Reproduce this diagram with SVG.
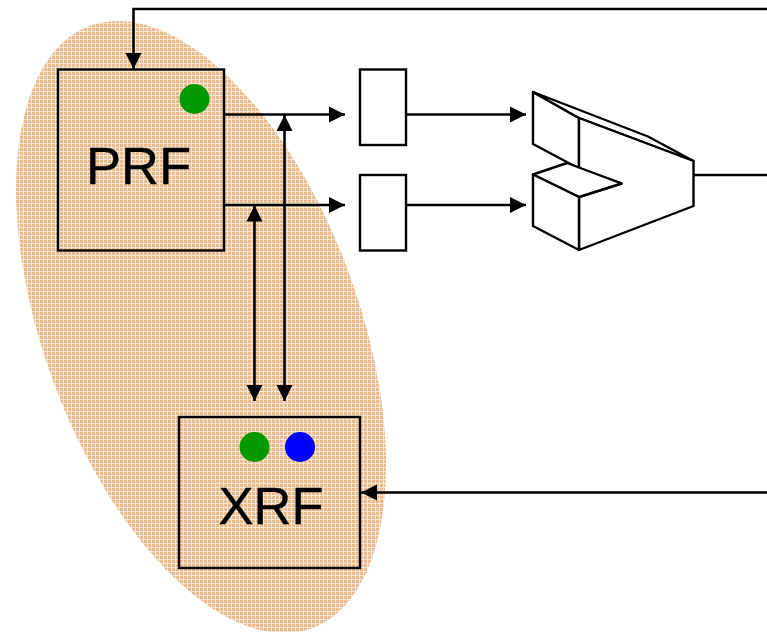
<svg xmlns="http://www.w3.org/2000/svg" width="767" height="632" viewBox="0 0 767 632">
<defs>
<pattern id="hatch" width="4" height="4" patternUnits="userSpaceOnUse">
<rect width="4" height="4" fill="#e9bb8e"/>
<rect x="3" width="1" height="4" fill="#f8e6d4"/>
<rect y="3" width="4" height="1" fill="#f8e6d4"/>
</pattern>
<clipPath id="regionClip"><ellipse cx="201" cy="327" rx="157.600" ry="321" transform="rotate(-20.250 201 327)"/></clipPath>
<marker id="arrow" markerUnits="userSpaceOnUse" markerWidth="17" markerHeight="17" refX="16" refY="8.500" orient="auto-start-reverse" viewBox="0 0 17 17">
<path d="M0 0.500L16 8.500L0 16.500Z" fill="#000"/>
</marker>
<style>
.box{fill:none;stroke:#000;stroke-width:2.400}
.wbox{fill:#fff;stroke:#000;stroke-width:2.400}
.line{fill:none;stroke:#000;stroke-width:2.600;stroke-linejoin:miter}
.arr{marker-end:url(#arrow)}
.both{marker-start:url(#arrow);marker-end:url(#arrow)}
.lbl{font-family:"Liberation Sans",Arial,sans-serif;font-size:52.500px;fill:#000;stroke:#000;stroke-width:0.400;text-anchor:middle}
.thin{fill:#fff;stroke:#000;stroke-width:2.400;stroke-linejoin:round}
</style>
</defs>
<rect id="region" x="0" y="0" width="420" height="632" fill="url(#hatch)" clip-path="url(#regionClip)"/>
<g id="prf"><rect class="box" x="58" y="69.500" width="166" height="181"/><circle cx="194.500" cy="99" r="15" fill="#009900"/><text class="lbl" x="138.500" y="184">PRF</text></g>
<g id="xrf"><rect class="box" x="179" y="417" width="181" height="151"/><circle cx="254.500" cy="447" r="15" fill="#009900"/><circle cx="300" cy="447" r="15" fill="#0000ff"/><text class="lbl" x="271" y="524">XRF</text></g>
<g id="latch1"><rect class="wbox" x="360" y="69.500" width="46" height="75.500"/></g>
<g id="latch2"><rect class="wbox" x="360" y="175" width="46" height="75.500"/></g>
<g id="alu">
<path class="thin" d="M533 92L579 118L579 168.500L533 144Z"/>
<path class="thin" d="M533 92L648 136.500L693.500 161L579 118Z"/>
<path class="thin" d="M579 118L693.500 161L693.500 206L579 250L579 197L621.500 183.500L579 168.500Z"/>
<path class="thin" d="M533 174.500L567 163L621.500 183.500L579 197Z"/>
<path class="thin" d="M533 174.500L579 197L579 250L533 226Z"/>
</g>
<g id="connectors">
<path class="line arr" d="M767 9H133.500V69"/>
<path class="line arr" d="M224 114.500H345"/>
<path class="line arr" d="M224 205H345"/>
<path class="line arr" d="M406 114.500H526"/>
<path class="line arr" d="M406 205H526"/>
<path class="line both" d="M254.500 205.500V401"/>
<path class="line both" d="M284.500 115V401"/>
<path class="line arr" d="M767 492.500H361"/>
<path class="line" d="M693.500 175H767"/>
</g>
</svg>
